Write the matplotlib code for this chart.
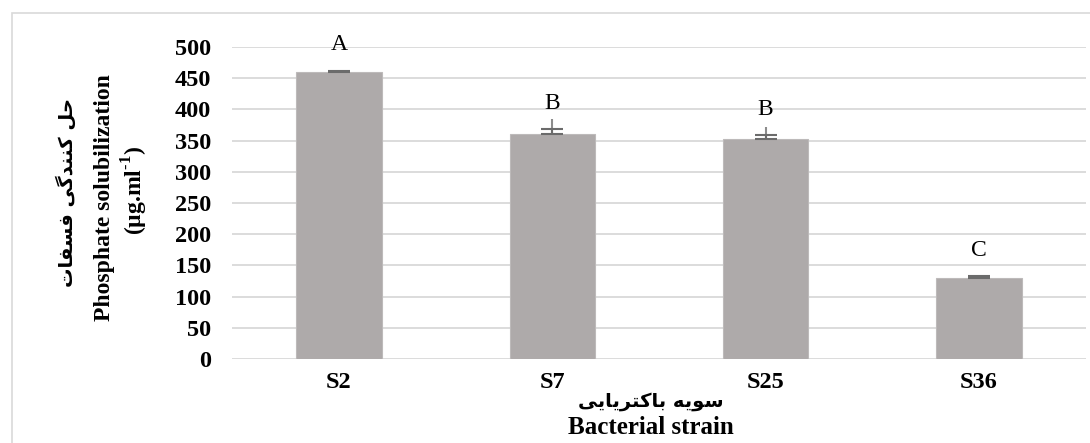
import matplotlib
matplotlib.use("Agg")
import matplotlib.pyplot as plt
from matplotlib.patches import Rectangle

strains = ["S2", "S7", "S25", "S36"]
solub = [459, 360, 352, 130]
err_cap = [3, 8, 7, 3]       # error bar with cap
err_line = [3, 24, 20, 3]    # upper whisker reach
letters = ["A", "B", "B", "C"]

# simple Persian shaping (matplotlib has no bidi / joining)
FORMS = {
    "ح": ("\uFEA1", "\uFEA2", "\uFEA3", "\uFEA4"),
    "ل": ("\uFEDD", "\uFEDE", "\uFEDF", "\uFEE0"),
    "ک": ("\uFB8E", "\uFB8F", "\uFB90", "\uFB91"),
    "ن": ("\uFEE5", "\uFEE6", "\uFEE7", "\uFEE8"),
    "د": ("\uFEA9", "\uFEAA", None, None),
    "گ": ("\uFB92", "\uFB93", "\uFB94", "\uFB95"),
    "ی": ("\uFBFC", "\uFBFD", "\uFBFE", "\uFBFF"),
    "ف": ("\uFED1", "\uFED2", "\uFED3", "\uFED4"),
    "س": ("\uFEB1", "\uFEB2", "\uFEB3", "\uFEB4"),
    "ا": ("\uFE8D", "\uFE8E", None, None),
    "ت": ("\uFE95", "\uFE96", "\uFE97", "\uFE98"),
    "و": ("\uFEED", "\uFEEE", None, None),
    "ه": ("\uFEE9", "\uFEEA", "\uFEEB", "\uFEEC"),
    "ب": ("\uFE8F", "\uFE90", "\uFE91", "\uFE92"),
    "ر": ("\uFEAD", "\uFEAE", None, None),
}


def dual(c):
    return c in FORMS and FORMS[c][2] is not None


def shape(s):
    out = []
    for i, c in enumerate(s):
        if c not in FORMS:
            out.append(c)
            continue
        prev = s[i - 1] if i > 0 else " "
        nxt = s[i + 1] if i + 1 < len(s) else " "
        join_prev = dual(prev)
        join_next = dual(c) and nxt in FORMS
        if join_prev and join_next:
            out.append(FORMS[c][3])
        elif join_prev:
            out.append(FORMS[c][1])
        elif join_next:
            out.append(FORMS[c][2])
        else:
            out.append(FORMS[c][0])
    return "".join(out[::-1])


fa_y = shape("حل کنندگی فسفات")
fa_x = shape("سویه باکتریایی")

plt.rcParams["font.family"] = ["Liberation Serif", "DejaVu Sans"]
plt.rcParams["mathtext.fontset"] = "custom"
plt.rcParams["mathtext.rm"] = "Liberation Serif:bold"
plt.rcParams["mathtext.bf"] = "Liberation Serif:bold"

fig = plt.figure(figsize=(10.9, 4.43), dpi=100)
ax = fig.add_axes([0.213, 0.1896, 0.783, 0.7046])

x = range(len(strains))
ax.bar(x, solub, width=0.4, color="#aeaaaa", edgecolor="#bdbaba", linewidth=0.8, zorder=2)
ax.errorbar(x, solub, yerr=[[0] * 4, err_line], fmt="none", ecolor="#8c8c8c",
            elinewidth=1.5, capsize=0, zorder=3)
ax.errorbar(x, solub, yerr=[[0] * 4, err_cap], fmt="none", ecolor="#6b6b6b",
            elinewidth=1.5, capsize=8, capthick=1.5, zorder=3)

for i, lab in enumerate(letters):
    ax.annotate(lab, (i, solub[i] + err_cap[i]), xytext=(0, 11), textcoords="offset points",
                ha="center", va="bottom", fontsize=17, fontfamily="Liberation Serif")

ax.set_xlim(-0.5, 3.5)
ax.set_ylim(0, 500)
ax.set_yticks(range(0, 501, 50))
ax.set_xticks(list(x))
ax.set_xticklabels(strains)
ax.yaxis.grid(True, color="#d9d9d9", linewidth=1.3, zorder=0)
ax.set_axisbelow(True)
for sp in ax.spines.values():
    sp.set_visible(False)
ax.tick_params(axis="both", length=0, labelsize=17.5)
ax.tick_params(axis="y", pad=15)
ax.tick_params(axis="x", pad=9)
for t in ax.get_xticklabels() + ax.get_yticklabels():
    t.set_fontweight("bold")

# axis titles
fig.text(0.061, 0.566, fa_y, rotation=90, ha="center", va="center", fontsize=14,
         fontweight="bold", family=["DejaVu Sans"])
fig.text(0.096, 0.553, "Phosphate solubilization", rotation=90, ha="center", va="center",
         fontsize=17, fontweight="bold")
fig.text(0.124, 0.571, r"(µg.ml$^{\text{-1}}$)", rotation=90, ha="center", va="center",
         fontsize=17, fontweight="bold")
fig.text(0.597, 0.0926, fa_x, ha="center", va="center", fontsize=14,
         fontweight="bold", family=["DejaVu Sans"])
fig.text(0.597, 0.036, "Bacterial strain", ha="center", va="center", fontsize=18,
         fontweight="bold")

# chart area border
fig.patches.append(Rectangle((0.011, -0.1), 1.2, 1.07, transform=fig.transFigure,
                             fill=False, edgecolor="#d9d9d9", linewidth=1.2))

fig.savefig("out.png", dpi=100)
